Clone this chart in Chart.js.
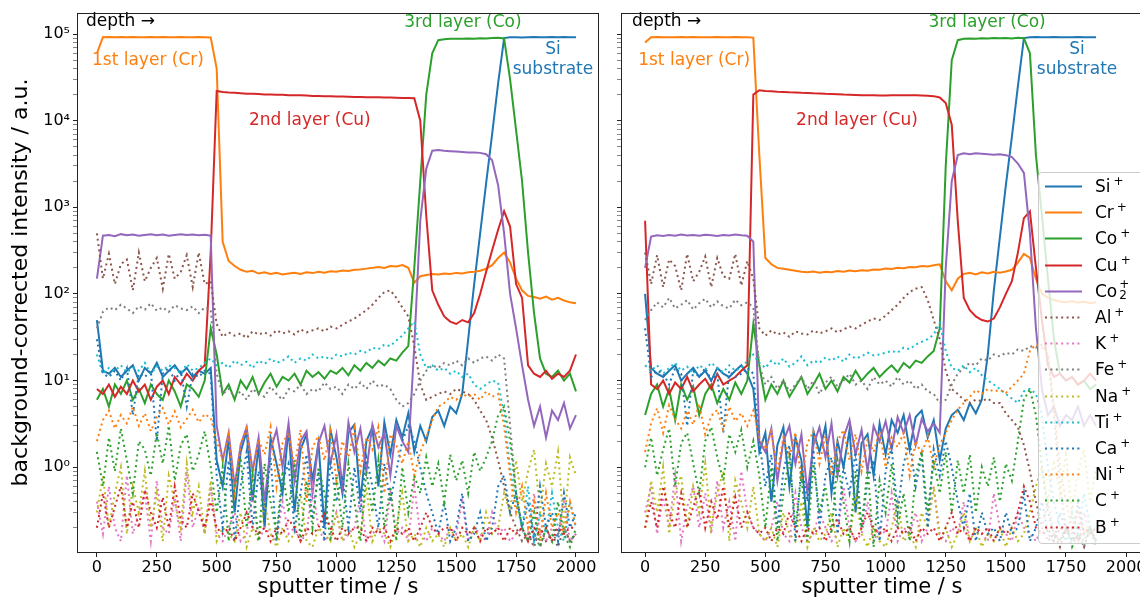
<!DOCTYPE html>
<html>
<head>
<meta charset="utf-8">
<script src="https://cdn.jsdelivr.net/npm/chart.js@4/dist/chart.umd.min.js"></script>
<style>
  html, body { margin: 0; padding: 0; background: #fff; overflow: hidden; }
  #wrap { position: relative; width: 1140px; height: 600px; overflow: hidden; }
  #leftBox { position: absolute; left: 0; top: 0; width: 600px; height: 600px; }
  #rightBox { position: absolute; left: 600px; top: 0; width: 542px; height: 600px; }
  #legend {
    position: absolute; left: 1038px; top: 172px; width: 112px; height: 370px;
    background: rgba(255, 255, 255, 0.8); border: 1px solid #cccccc; border-radius: 4px;
    font-family: "DejaVu Sans"; font-size: 17px; color: #000;
  }
  #legend .row { position: absolute; left: 0; width: 110px; height: 26px; }
  #legend svg { position: absolute; left: 6px; top: 12px; }
  #legend .lbl { position: absolute; left: 56px; top: 0; line-height: 26px; white-space: nowrap; }
  #legend sup { font-size: 12px; vertical-align: 7px; line-height: 0; margin-left: 3px; }
  #legend .st { display: inline-block; vertical-align: middle; font-size: 12px; line-height: 11px; margin-left: 2px; position: relative; top: -2px; }
  #legend .st span { display: block; }
</style>
</head>
<body>
<div id="wrap">
  <div id="leftBox"><canvas id="leftChart" width="600" height="600"></canvas></div>
  <div id="rightBox"><canvas id="rightChart" width="542" height="600"></canvas></div>
  <div id="legend"></div>
</div>
<script>
// ions in legend order
const ions = ['Si', 'Cr', 'Co', 'Cu', 'Co2', 'Al', 'K', 'Fe', 'Na', 'Ti', 'Ca', 'Ni', 'C', 'B'];
const ionLabels = ['Si⁺', 'Cr⁺', 'Co⁺', 'Cu⁺', 'Co₂⁺', 'Al⁺', 'K⁺', 'Fe⁺', 'Na⁺', 'Ti⁺', 'Ca⁺', 'Ni⁺', 'C⁺', 'B⁺'];
const ionColors = ['#1f77b4', '#ff7f0e', '#2ca02c', '#d62728', '#9467bd', '#8c564b', '#e377c2',
  '#7f7f7f', '#bcbd22', '#17becf', '#1f77b4', '#ff7f0e', '#2ca02c', '#d62728'];
const ionDotted = [false, false, false, false, false, true, true, true, true, true, true, true, true, true];

// axis ticks
const xTicks = [0, 250, 500, 750, 1000, 1250, 1500, 1750, 2000];
const yMajor = [1, 10, 100, 1000, 10000, 100000];
const yTickLabels = ['10⁰', '10¹', '10²', '10³', '10⁴', '10⁵'];

// ---- left panel (sputter time, s) ----
const tLeft = [0, 25, 50, 75, 100, 125, 150, 175, 200, 225,
  250, 275, 300, 325, 350, 375, 400, 425, 450, 475,
  500, 525, 550, 575, 600, 625, 650, 675, 700, 725,
  750, 775, 800, 825, 850, 875, 900, 925, 950, 975,
  1000, 1025, 1050, 1075, 1100, 1125, 1150, 1175, 1200, 1225,
  1250, 1275, 1300, 1325, 1350, 1375, 1400, 1425, 1450, 1475,
  1500, 1525, 1550, 1575, 1600, 1625, 1650, 1675, 1700, 1725,
  1750, 1775, 1800, 1825, 1850, 1875, 1900, 1925, 1950, 1975,
  2000];

const leftSi = [50, 13, 12, 14, 11, 13, 15, 10, 14, 12,
  16, 11, 13, 15, 12, 14, 11, 13, 12, 14,
  1.2, 0.6, 2.1, 0.3, 1.5, 2.6, 0.4, 1.8, 0.2, 2.2,
  1.1, 0.5, 2.8, 0.3, 1.6, 2.4, 0.7, 1.9, 0.2, 2.7,
  1.3, 0.5, 2.5, 3.1, 0.4, 2.0, 2.9, 0.6, 3.3, 1.4,
  3.5, 2.2, 4.2, 1.5, 3.0, 2.0, 3.8, 4.5, 3.0, 5.0,
  4.2, 7, 30, 130, 500, 1900, 7000, 27000, 90000, 92000,
  92000, 91500, 92000, 92500, 92000, 91800, 92200, 92000, 92300, 92000,
  92000];
const leftCr = [60000, 92000, 92500, 91800, 92200, 92000, 92400, 91900, 92100, 92300,
  92000, 92200, 91800, 92100, 92300, 92000, 91900, 92200, 92000, 91500,
  40000, 400, 240, 210, 190, 180, 185, 172, 178, 170,
  175, 168, 172, 176, 170, 178, 174, 180, 176, 183,
  180, 186, 184, 190, 192, 196, 200, 205, 200, 210,
  208, 215, 200, 135, 160, 165, 170, 168, 172, 170,
  175, 172, 178, 180, 185, 195, 215, 260, 300, 230,
  150, 110, 95, 92, 88, 93, 86, 90, 84, 80,
  78];
const leftCo = [6, 8, 5, 9, 7, 10, 6, 8, 5.5, 9,
  7, 6, 10, 7.5, 5, 9, 8, 6.5, 10, 40,
  20, 7, 9, 6, 10, 8, 11, 7, 9.5, 12,
  8.5, 11, 10, 12, 9, 13, 11, 12.5, 10.5, 13,
  12, 14, 11.5, 15, 13, 16, 14, 17, 15, 18,
  17, 21, 25, 200, 2000, 20000, 60000, 85000, 87000, 88000,
  88500, 88000, 89000, 88500, 89500, 89000, 90000, 90500, 89000, 30000,
  7800, 2000, 300, 60, 18, 12, 11, 13, 10, 12,
  7.5];
const leftCu = [8, 7, 9, 6.5, 8.5, 7, 10, 7.5, 9, 6,
  8.5, 10, 7, 11, 9, 12, 10, 13, 15, 300,
  22000, 21500, 21200, 21000, 20800, 20500, 20400, 20300, 20100, 20000,
  19900, 19900, 19700, 19600, 19600, 19500, 19300, 19300, 19200, 19100,
  19000, 19000, 18900, 18800, 18800, 18700, 18600, 18600, 18500, 18500,
  18400, 18300, 18300, 18200, 10000, 800, 110, 75, 55, 48,
  45, 50, 47, 60, 100, 180, 320, 550, 900, 600,
  130, 90, 15, 12, 11, 13, 10.5, 12, 11, 13,
  20];
const leftCo2 = [150, 470, 480, 465, 490, 475, 485, 470, 480, 490,
  475, 485, 470, 480, 490, 478, 485, 475, 482, 470,
  3, 1.2, 2.5, 0.6, 1.8, 2.9, 0.9, 2.2, 0.4, 1.6,
  2.7, 1.0, 3.2, 0.7, 2.0, 2.6, 0.5, 1.9, 3.0, 1.1,
  2.4, 0.6, 3.3, 1.5, 2.8, 0.9, 3.1, 1.7, 2.5, 0.8,
  3.0, 2.0, 1.5, 25, 700, 2800, 4500, 4600, 4500, 4450,
  4400, 4350, 4300, 4300, 4250, 4100, 3500, 1800, 500, 100,
  40, 15, 6, 3, 5, 2.2, 4.5, 3.5, 5.5, 2.8,
  4];
const leftAl = [500, 150, 290, 130, 220, 250, 110, 300, 140, 200,
  260, 115, 290, 150, 180, 280, 120, 300, 130, 140,
  45, 32, 36, 33, 35, 31, 37, 34, 36, 33,
  38, 35, 37, 34, 39, 36, 38, 40, 37, 42,
  40, 44, 48, 52, 58, 65, 75, 90, 105, 110,
  90, 70, 55, 25, 9, 6, 6.5, 7, 7.5, 7,
  8, 7.5, 7, 6, 4.5, 3.5, 2.2, 1.2, 0.6, 0.3,
  0.2, 0.14, 0.17, 0.12, 0.2, 0.14, 0.17, 0.12, 0.2, 0.14,
  0.17];
const leftK = [0.4, 0.17, 0.6, 0.2, 0.14, 0.8, 0.17, 0.3, 0.5, 0.14,
  0.7, 0.2, 0.17, 0.45, 0.14, 0.9, 0.2, 0.35, 0.17, 0.6,
  0.17, 0.14, 0.2, 0.3, 0.14, 0.17, 0.5, 0.14, 0.2, 0.17,
  0.14, 0.4, 0.17, 0.2, 0.14, 0.17, 0.6, 0.2, 0.14, 0.17,
  0.3, 0.14, 0.17, 0.2, 0.45, 0.14, 0.17, 0.2, 0.14, 0.5,
  0.17, 0.2, 0.14, 0.6, 0.17, 0.14, 0.2, 0.17, 0.14, 0.2,
  0.17, 0.4, 0.14, 0.2, 0.17, 0.14, 0.3, 0.17, 0.2, 0.14,
  0.17, 0.2, 0.14, 0.5, 0.17, 0.14, 0.2, 0.17, 0.4, 0.14,
  0.17];
const leftFe = [40, 62, 70, 65, 75, 68, 60, 72, 66, 78,
  64, 70, 62, 74, 68, 65, 72, 60, 70, 66,
  12, 7, 8, 6.5, 7.5, 6, 8, 7, 6.5, 8.5,
  7, 6, 8, 7.5, 9, 7, 8, 7.5, 9.5, 8,
  8.5, 7, 9, 8, 9.5, 8, 10, 8.5, 9, 8,
  6, 5, 5.5, 7, 10, 13, 15, 14, 16, 15,
  17, 15, 18, 16, 18, 19, 17, 20, 18, 3,
  0.5, 0.2, 0.14, 0.17, 0.12, 0.2, 0.14, 0.17, 0.2, 0.14,
  0.17];
const leftNa = [0.3, 0.8, 0.2, 0.5, 1.0, 0.17, 0.6, 0.3, 0.9, 0.2,
  0.5, 0.14, 0.8, 0.4, 0.2, 1.1, 0.3, 0.6, 0.17, 0.7,
  0.14, 0.2, 0.17, 0.14, 0.3, 0.12, 0.2, 0.14, 0.4, 0.17,
  0.12, 0.2, 0.14, 0.17, 0.5, 0.14, 0.12, 0.2, 0.17, 0.14,
  0.3, 0.14, 0.2, 0.12, 0.17, 0.6, 0.14, 0.2, 0.17, 0.12,
  0.2, 0.5, 0.14, 0.17, 0.12, 0.2, 0.14, 0.17, 0.12, 0.2,
  0.14, 0.17, 0.12, 0.2, 0.14, 0.3, 0.17, 0.2, 0.5, 0.3,
  1.2, 0.4, 0.9, 1.6, 0.3, 1.1, 0.6, 1.5, 0.2, 1.3,
  0.8];
const leftTi = [20, 12, 14, 13, 15, 12.5, 14, 13, 16, 12,
  14.5, 13, 15, 14, 12, 15.5, 13, 14, 16, 18,
  15, 16, 14, 17, 15, 16.5, 14, 17, 15.5, 18,
  16, 17, 19, 16, 18, 17, 20, 18, 19, 17.5,
  20, 19, 21, 20, 22, 21, 24, 23, 26, 25,
  29, 33, 40, 48, 20, 14, 15, 13, 14, 12,
  13, 11, 12, 9, 8, 9, 10, 9.5, 4, 1,
  0.4, 0.2, 0.6, 0.14, 0.3, 0.17, 0.5, 0.2, 0.14, 0.4,
  0.2];
const leftCa = [30, 12, 11, 13, 10, 14, 4, 12, 11, 13,
  2, 12, 14, 10, 13, 5, 12, 11, 13, 12,
  0.8, 0.2, 1.2, 0.14, 0.6, 1.5, 0.2, 0.9, 0.3, 1.3,
  0.14, 0.7, 1.1, 0.2, 0.5, 1.4, 0.25, 0.9, 0.14, 1.2,
  0.4, 0.8, 0.2, 1.0, 0.3, 1.3, 0.6, 0.2, 1.1, 0.4,
  0.9, 2.0, 3, 2, 1, 0.5, 0.3, 0.17, 0.4, 0.14,
  0.2, 0.5, 0.14, 0.17, 0.3, 0.14, 0.2, 0.6, 0.8, 0.3,
  0.5, 0.2, 0.4, 0.14, 0.6, 0.2, 0.3, 0.14, 0.5, 0.2,
  0.3];
const leftNi = [2, 3.5, 4.5, 2.8, 4, 3.2, 5, 3, 4.2, 2.6,
  3.8, 4.8, 3.1, 4.4, 2.9, 3.6, 4.6, 3.3, 4.1, 3.7,
  2, 1.2, 2.4, 0.5, 1.8, 2.8, 0.8, 2.1, 1.4, 2.9,
  0.6, 1.9, 2.5, 1.0, 2.7, 0.4, 1.7, 2.3, 1.2, 2.6,
  0.7, 2.0, 1.3, 2.8, 0.9, 2.2, 1.6, 2.9, 0.5, 2.4,
  1.8, 1.1, 2, 0.8, 1.5, 2.2, 3.5, 5, 5.5, 6.5,
  6, 7, 6.5, 7, 6, 7.5, 6.5, 7, 3, 0.8,
  0.3, 0.6, 0.2, 0.4, 0.14, 0.5, 0.2, 0.3, 0.17, 0.4,
  0.2];
const leftC = [1.5, 0.6, 2.2, 0.9, 2.8, 1.2, 0.5, 2.0, 1.6, 0.8,
  2.5, 1.1, 3.0, 0.7, 1.8, 2.4, 0.9, 1.4, 2.6, 1.0,
  0.3, 1.0, 0.14, 0.6, 1.3, 0.2, 0.8, 0.14, 1.1, 0.4,
  0.17, 0.9, 0.3, 1.2, 0.14, 0.7, 0.2, 1.0, 0.5, 0.14,
  0.8, 0.2, 1.1, 0.4, 0.14, 0.9, 0.3, 1.2, 0.2, 0.6,
  0.14, 1.0, 0.3, 0.8, 0.5, 1.3, 0.6, 1.1, 0.4, 1.4,
  0.7, 1.2, 0.5, 1.5, 0.9, 1.3, 2, 4, 5, 2,
  0.5, 0.2, 0.14, 0.3, 0.12, 0.2, 0.14, 0.4, 0.17, 0.12,
  0.2];
const leftB = [0.2, 0.5, 0.2, 0.35, 0.6, 0.2, 0.4, 0.2, 0.55, 0.3,
  0.2, 0.45, 0.2, 0.6, 0.25, 0.2, 0.5, 0.3, 0.2, 0.4,
  0.2, 0.17, 0.2, 0.14, 0.2, 0.3, 0.2, 0.17, 0.2, 0.14,
  0.2, 0.17, 0.25, 0.2, 0.14, 0.2, 0.17, 0.2, 0.3, 0.2,
  0.14, 0.2, 0.17, 0.2, 0.2, 0.14, 0.2, 0.17, 0.2, 0.14,
  0.2, 0.17, 0.2, 0.14, 0.2, 0.3, 0.2, 0.17, 0.2, 0.2,
  0.14, 0.2, 0.17, 0.2, 0.14, 0.2, 0.17, 0.2, 0.14, 0.2,
  0.17, 0.2, 0.14, 0.2, 0.17, 0.2, 0.14, 0.2, 0.17, 0.2,
  0.2];

// ---- right panel ----
const tRight = [0, 25, 50, 75, 100, 125, 150, 175, 200, 225,
  250, 275, 300, 325, 350, 375, 400, 425, 450, 475,
  500, 525, 550, 575, 600, 625, 650, 675, 700, 725,
  750, 775, 800, 825, 850, 875, 900, 925, 950, 975,
  1000, 1025, 1050, 1075, 1100, 1125, 1150, 1175, 1200, 1225,
  1250, 1275, 1300, 1325, 1350, 1375, 1400, 1425, 1450, 1475,
  1500, 1525, 1550, 1575, 1600, 1625, 1650, 1675, 1700, 1725,
  1750, 1775, 1800, 1825, 1850, 1875];

const rightSi = [100, 14, 12, 11, 13, 15, 10, 12, 14, 11,
  13, 10, 14, 12, 11, 13, 15, 12, 8, 1.5,
  2.5, 0.4, 1.8, 2.9, 0.6, 2.2, 1.2, 0.2, 2.6, 1.5,
  3.0, 0.5, 2.0, 1.0, 2.7, 0.3, 1.9, 2.4, 0.8, 3.2,
  1.4, 3.5, 2.5, 4.0, 1.6, 3.8, 4.5, 2.2, 3.5, 1.2,
  2.8, 4.0, 4.6, 3.5, 5.5, 4.2, 6, 20, 110, 450,
  1800, 6500, 25000, 90000, 92000, 92300, 91800, 92000, 92200, 92000,
  91800, 92000, 92200, 92000, 91900, 92000];
const rightCr = [80000, 92000, 92300, 91800, 92100, 92000, 92400, 91900, 92200, 92000,
  91800, 92100, 92300, 92000, 91900, 92200, 92000, 92100, 91000, 4000,
  260, 220, 200, 195, 190, 185, 180, 178, 182, 176,
  180, 178, 184, 180, 186, 183, 188, 185, 192, 190,
  196, 194, 200, 198, 205, 203, 210, 208, 215, 220,
  140, 110, 150, 170, 175, 168, 178, 172, 180, 176,
  182, 190, 230, 290, 260, 150, 100, 90, 85, 82,
  80, 83, 79, 81, 78, 80];
const rightCo = [4, 7, 9, 5, 8, 3.5, 9, 6, 8.5, 4,
  7, 9, 5.5, 8, 6, 9.5, 7, 10, 45, 15,
  6, 9, 7, 10, 6.5, 8.5, 11, 7, 9, 12,
  8, 10, 7.5, 11, 9.5, 13, 10, 12, 14, 11,
  13, 15, 12.5, 16, 14, 17, 16, 19, 22, 40,
  3000, 50000, 85000, 88000, 89000, 88500, 89500, 89000, 90000, 89500,
  90000, 89000, 90500, 89500, 60000, 4000, 800, 150, 30, 12,
  10, 11, 9, 10, 8, 9];
const rightCu = [700, 9, 8, 10, 7, 9.5, 8, 11, 7.5, 9,
  10.5, 8, 12, 9, 10, 11, 13, 15, 20000, 22500,
  22000, 21800, 21600, 21500, 21300, 21200, 21000, 20900, 20700, 20600,
  20400, 20300, 20200, 20000, 19900, 19800, 19700, 19600, 19600, 19500,
  19500, 19600, 19700, 19600, 19700, 19600, 19500, 19400, 19200, 18500,
  16000, 9000, 700, 90, 65, 55, 50, 48, 52, 70,
  100, 140, 300, 750, 900, 200, 50, 15, 11, 12,
  10, 11, 9, 10, 12, 10];
const rightCo2 = [200, 460, 475, 468, 480, 470, 485, 472, 478, 470,
  482, 475, 468, 480, 472, 485, 476, 470, 400, 2,
  1.5, 2.8, 0.7, 2.0, 3.0, 1.1, 2.4, 0.5, 1.8, 2.9,
  1.3, 3.2, 0.8, 2.2, 3.5, 1.4, 2.7, 0.9, 3.0, 2.0,
  3.4, 1.6, 3.8, 2.5, 4.0, 1.8, 3.6, 2.6, 3.2, 2.5,
  200, 2000, 4000, 4200, 4100, 4200, 4150, 4100, 4050, 4100,
  4000, 3800, 3200, 2500, 500, 40, 8, 4, 5, 3,
  4, 3.5, 5, 3, 4, 3];
const rightAl = [300, 130, 280, 120, 250, 210, 110, 290, 140, 180,
  270, 120, 260, 160, 150, 290, 125, 240, 150, 40,
  33, 38, 34, 36, 32, 37, 35, 34, 38, 35,
  37, 40, 36, 39, 42, 40, 44, 48, 52, 50,
  56, 65, 75, 90, 105, 115, 120, 85, 50, 30,
  13, 8, 7, 6, 5.5, 6, 5.8, 6.2, 5.5, 5.5,
  4.2, 3.5, 2.9, 1.8, 0.9, 0.4, 0.2, 0.14, 0.17, 0.12,
  0.2, 0.14, 0.17, 0.12, 0.2, 0.14];
const rightK = [0.3, 0.6, 0.17, 0.45, 0.2, 0.8, 0.14, 0.35, 0.6, 0.2,
  0.5, 0.17, 0.7, 0.2, 0.4, 0.14, 0.9, 0.3, 0.2, 0.17,
  0.14, 0.2, 0.4, 0.17, 0.14, 0.5, 0.2, 0.14, 0.17, 0.3,
  0.2, 0.14, 0.17, 0.6, 0.2, 0.14, 0.17, 0.4, 0.14, 0.2,
  0.17, 0.5, 0.14, 0.2, 0.17, 0.3, 0.14, 0.2, 0.6, 0.17,
  0.14, 0.2, 0.17, 0.4, 0.14, 0.2, 0.17, 0.14, 0.5, 0.2,
  0.17, 0.14, 0.3, 0.2, 0.17, 0.14, 0.2, 0.4, 0.17, 0.14,
  0.2, 0.17, 0.14, 0.3, 0.17, 0.2];
const rightFe = [50, 65, 80, 70, 90, 68, 75, 85, 66, 78,
  88, 70, 82, 72, 68, 86, 74, 80, 70, 15,
  9, 11, 8, 10, 7.5, 9, 11, 8, 10, 7,
  9.5, 11, 8.5, 10, 12, 9, 10, 8, 11, 9,
  10, 8.5, 11, 9, 10, 8, 9, 7.5, 7, 5.5,
  6, 9, 12, 14, 16, 15, 18, 17, 20, 19,
  21, 20, 23, 22, 25, 24, 26, 20, 4, 0.6,
  0.2, 0.14, 0.17, 0.12, 0.2, 0.14];
const rightNa = [0.2, 0.7, 0.3, 1.0, 0.17, 0.5, 0.8, 0.2, 0.6, 0.3,
  1.1, 0.2, 0.5, 0.9, 0.14, 0.7, 0.4, 0.2, 0.6, 0.17,
  0.14, 0.2, 0.12, 0.3, 0.17, 0.14, 0.4, 0.12, 0.2, 0.14,
  0.17, 0.3, 0.12, 0.2, 0.14, 0.5, 0.17, 0.12, 0.2, 0.14,
  0.12, 0.2, 0.4, 0.14, 0.17, 0.12, 0.3, 0.2, 0.6, 0.14,
  0.2, 0.12, 0.17, 0.3, 0.14, 0.2, 0.12, 0.17, 0.14, 0.2,
  0.12, 0.2, 0.14, 0.17, 0.3, 0.6, 1.0, 0.4, 1.2, 0.5,
  1.4, 0.3, 0.9, 1.6, 0.4, 1.0];
const rightTi = [15, 13, 15, 12, 14, 16, 13, 14.5, 12, 15,
  13.5, 16, 14, 12.5, 15, 13, 14, 17, 20, 16,
  14, 17, 15, 18, 14.5, 16, 19, 15, 17, 16,
  18.5, 17, 19, 16.5, 20, 18, 19, 21, 19.5, 20,
  21, 22, 21, 24, 23, 26, 28, 30, 34, 46,
  22, 14, 13, 15, 12.5, 14, 11.5, 10, 9, 8,
  7, 6.2, 5.5, 7.5, 8, 7, 4, 1, 0.4, 0.2,
  0.14, 0.3, 0.17, 0.5, 0.2, 0.14];
const rightCa = [40, 11, 13, 12, 9, 14, 12, 3, 13, 11,
  14, 10, 12, 2.5, 13, 11, 12, 14, 12, 2,
  0.6, 1.4, 0.2, 0.9, 1.8, 0.14, 1.1, 0.4, 1.6, 0.2,
  0.8, 1.3, 0.17, 1.0, 0.5, 1.5, 0.2, 0.7, 1.2, 0.14,
  0.9, 1.7, 0.3, 1.1, 2.0, 0.6, 1.4, 0.2, 1.6, 0.8,
  2.0, 1.0, 0.4, 0.2, 0.5, 0.14, 0.3, 0.17, 0.2, 0.14,
  0.3, 0.17, 0.2, 0.5, 0.14, 0.2, 0.4, 0.17, 0.14, 0.3,
  0.2, 0.14, 0.4, 0.17, 0.2, 0.14];
const rightNi = [1.5, 3.2, 4.8, 2.5, 5.2, 3.6, 2.8, 4.5, 3.1, 5.4,
  2.4, 3.9, 4.6, 2.7, 5.0, 3.4, 4.2, 3.0, 4.5, 2.2,
  1.6, 2.6, 0.9, 2.2, 1.3, 2.5, 0.7, 1.9, 2.6, 1.1,
  2.3, 0.8, 2.0, 2.7, 1.2, 2.4, 0.9, 2.1, 1.5, 2.6,
  1.0, 2.2, 1.7, 2.5, 0.8, 2.0, 1.4, 2.3, 1.0, 1.8,
  2.5, 3.5, 4.6, 5.5, 6.5, 7.8, 7, 8, 7.5, 7.8,
  7.2, 8.5, 10, 12, 22, 26, 24, 20, 5, 1,
  0.4, 0.2, 0.3, 0.17, 0.2, 0.14];
const rightC = [1, 2.2, 0.8, 1.6, 2.8, 0.6, 1.9, 2.5, 1.1, 0.5,
  2.0, 2.9, 1.3, 0.7, 2.4, 1.5, 2.7, 1.0, 2, 0.8,
  0.2, 1.0, 0.14, 0.5, 1.3, 0.2, 0.8, 0.14, 1.1, 0.3,
  0.6, 0.17, 1.2, 0.4, 0.14, 0.9, 0.2, 1.0, 0.12, 0.7,
  0.3, 1.1, 0.2, 0.5, 0.14, 0.8, 1.5, 0.3, 1.2, 0.5,
  1.5, 0.3, 1.2, 0.5, 1.4, 0.3, 1.0, 0.6, 1.3, 0.4,
  1.1, 0.7, 2, 6, 8, 4, 1, 0.3, 0.17, 0.14,
  0.2, 0.12, 0.17, 0.14, 0.2, 0.12];
const rightB = [0.2, 0.4, 0.2, 0.6, 0.3, 0.2, 0.5, 0.2, 0.35, 0.55,
  0.2, 0.4, 0.25, 0.6, 0.2, 0.45, 0.2, 0.3, 0.2, 0.17,
  0.2, 0.14, 0.2, 0.17, 0.3, 0.2, 0.14, 0.2, 0.17, 0.2,
  0.14, 0.2, 0.25, 0.17, 0.2, 0.14, 0.2, 0.3, 0.2, 0.17,
  0.2, 0.14, 0.2, 0.17, 0.2, 0.14, 0.2, 0.17, 0.2, 0.14,
  0.2, 0.3, 0.17, 0.2, 0.14, 0.2, 0.17, 0.2, 0.14, 0.2,
  0.17, 0.2, 0.3, 0.6, 0.4, 0.2, 0.17, 0.2, 0.14, 0.2,
  0.17, 0.2, 0.14, 0.2, 0.17, 0.2];

const leftSeries = [leftSi, leftCr, leftCo, leftCu, leftCo2, leftAl, leftK, leftFe, leftNa, leftTi, leftCa, leftNi, leftC, leftB];
const rightSeries = [rightSi, rightCr, rightCo, rightCu, rightCo2, rightAl, rightK, rightFe, rightNa, rightTi, rightCa, rightNi, rightC, rightB];

// text labels in the plot, placed in data coordinates (time s, intensity)
const leftNotes = [
  { text: 'depth →', t: -46, v: 138000, color: '#000', align: 'left' },
  { text: '1st layer (Cr)', t: 213, v: 50000, color: '#ff7f0e' },
  { text: '2nd layer (Cu)', t: 889, v: 10000, color: '#d62728' },
  { text: '3rd layer (Co)', t: 1528, v: 134000, color: '#2ca02c' },
  { text: 'Si', t: 1904, v: 67000, color: '#1f77b4' },
  { text: 'substrate', t: 1904, v: 38400, color: '#1f77b4' }
];
const rightNotes = [
  { text: 'depth →', t: -54, v: 138000, color: '#000', align: 'left' },
  { text: '1st layer (Cr)', t: 204, v: 50000, color: '#ff7f0e' },
  { text: '2nd layer (Cu)', t: 881, v: 10000, color: '#d62728' },
  { text: '3rd layer (Co)', t: 1422, v: 134000, color: '#2ca02c' },
  { text: 'Si', t: 1796, v: 67000, color: '#1f77b4' },
  { text: 'substrate', t: 1796, v: 38400, color: '#1f77b4' }
];

Chart.defaults.font.family = '"DejaVu Sans"';
Chart.defaults.color = '#000';

// minor ticks of the log axis (2..9 in every decade)
const yAllTicks = [];
[0.1, 1, 10, 100, 1000, 10000].forEach(d => {
  for (let m = 1; m <= 9; m++) {
    const v = m === 1 ? d : +(m * d).toPrecision(3);
    if (v >= 0.2 && v <= 100000) yAllTicks.push(v);
  }
});
yAllTicks.push(100000);

const framePlugin = {
  id: 'frame',
  afterDraw(chart) {
    const { ctx, chartArea: a } = chart;
    ctx.save();
    ctx.strokeStyle = '#222';
    ctx.lineWidth = 1;
    ctx.strokeRect(Math.round(a.left) - 0.5, Math.round(a.top) + 0.5, Math.round(a.right - a.left) + 1, Math.round(a.bottom - a.top));
    ctx.restore();
  }
};

const notesPlugin = {
  id: 'notes',
  afterDatasetsDraw(chart, args, opts) {
    const { ctx, scales: { x, y } } = chart;
    ctx.save();
    ctx.font = '17px "DejaVu Sans"';
    ctx.textBaseline = 'middle';
    opts.items.forEach(n => {
      ctx.fillStyle = n.color;
      ctx.textAlign = n.align || 'center';
      ctx.fillText(n.text, x.getPixelForValue(n.t), y.getPixelForValue(n.v));
    });
    ctx.restore();
  }
};

function makeDatasets(times, series) {
  return series.map((vals, i) => ({
    label: ionLabels[i],
    data: vals.map((v, k) => ({ x: times[k], y: v })),
    borderColor: ionColors[i],
    backgroundColor: ionColors[i],
    borderWidth: 2,
    borderDash: ionDotted[i] ? [2, 3.4] : [],
    pointRadius: 0,
    tension: 0,
    fill: false,
    order: series.length - i,
    clip: 0
  }));
}

function makeChart(id, times, series, notes, opt) {
  return new Chart(document.getElementById(id), {
    type: 'line',
    data: { datasets: makeDatasets(times, series) },
    options: {
      responsive: false,
      animation: false,
      events: [],
      layout: { padding: { top: 13, right: opt.padRight, left: 0, bottom: 0 } },
      plugins: {
        legend: { display: false },
        tooltip: { enabled: false },
        notes: { items: notes }
      },
      scales: {
        x: {
          type: 'linear',
          min: opt.xMin,
          max: opt.xMax,
          afterBuildTicks: s => { s.ticks = xTicks.map(v => ({ value: v })); },
          afterFit: s => { s.height = 48; s.paddingLeft = 0; s.paddingRight = 0; },
          ticks: { font: { size: 16 }, color: '#000', padding: 1, maxRotation: 0, autoSkip: false, callback: v => String(v) },
          grid: { display: true, drawOnChartArea: false, drawTicks: true, tickLength: 5, tickColor: '#222' },
          border: { display: false },
          title: { display: true, text: 'sputter time / s', font: { size: 21 }, color: '#000', padding: { top: 0, bottom: 0 } }
        },
        y: {
          type: 'logarithmic',
          min: 0.105,
          max: 175000,
          afterBuildTicks: s => { s.ticks = yAllTicks.map(v => ({ value: v, major: yMajor.includes(v) })); },
          afterFit: s => { s.width = opt.yWidth; s.paddingTop = 0; s.paddingBottom = 0; },
          ticks: {
            display: opt.yLabels,
            font: { size: 16 },
            color: '#000',
            padding: 3,
            autoSkip: false,
            callback: v => { const k = yMajor.indexOf(v); return k >= 0 ? yTickLabels[k] : ''; }
          },
          grid: {
            display: true, drawOnChartArea: false, drawTicks: true, tickLength: 5,
            tickColor: c => (c.tick && yMajor.includes(c.tick.value)) ? '#222' : '#555',
            tickWidth: c => (c.tick && yMajor.includes(c.tick.value)) ? 1 : 0.7
          },
          border: { display: false },
          title: {
            display: opt.yLabels, text: 'background-corrected intensity / a.u.',
            font: { size: 22 }, color: '#000', padding: { top: 8, bottom: 0 }
          }
        }
      }
    },
    plugins: [framePlugin, notesPlugin]
  });
}

makeChart('leftChart', tLeft, leftSeries, leftNotes, { xMin: -79, xMax: 2092, yWidth: 78, yLabels: true, padRight: 2 });
makeChart('rightChart', tRight, rightSeries, rightNotes, { xMin: -96, xMax: 2066, yWidth: 22, yLabels: false, padRight: 0 });

// legend drawn over the right panel
const legendEl = document.getElementById('legend');
ions.forEach((ion, i) => {
  const row = document.createElement('div');
  row.className = 'row';
  row.style.top = (i * 26.2) + 'px';
  const dash = ionDotted[i] ? ' stroke-dasharray="2 3.4"' : '';
  const name = ion === 'Co2'
    ? 'Co<span class="st"><span>+</span><span>2</span></span>'
    : ion + '<sup>+</sup>';
  row.innerHTML = '<svg width="37" height="3"><line x1="0" y1="1.5" x2="37" y2="1.5" stroke="' +
    ionColors[i] + '" stroke-width="2"' + dash + '/></svg><span class="lbl">' + name + '</span>';
  legendEl.appendChild(row);
});
</script>
</body>
</html>
